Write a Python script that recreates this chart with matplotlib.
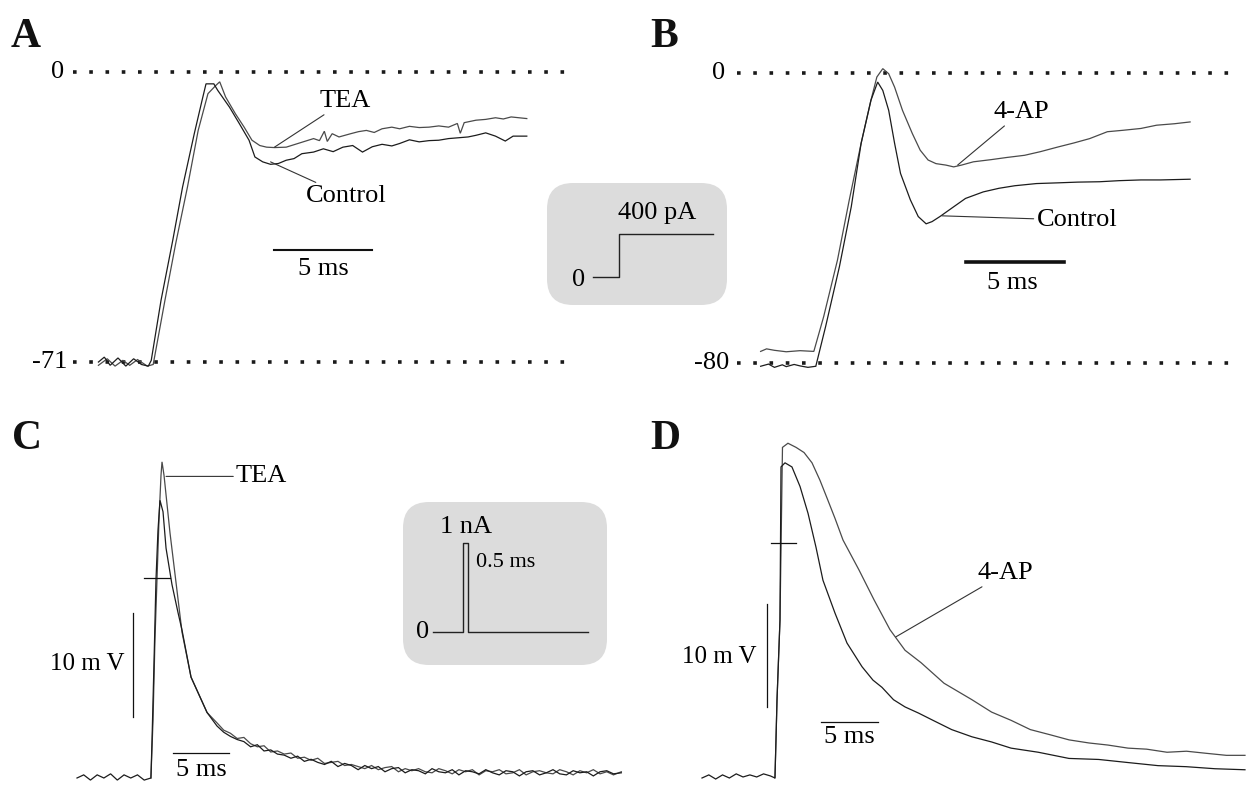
import matplotlib
matplotlib.use("Agg")
import matplotlib.pyplot as plt
from matplotlib.patches import FancyBboxPatch

plt.rcParams['font.family'] = ['Liberation Serif', 'DejaVu Serif']

W, H = 1252, 785

# ---------------- data (time in ms, membrane potential in mV) ----------------
# Panel A: 400 pA step, control vs TEA
ctlA_t = [1.3, 1.6, 1.9, 2.3, 2.7, 3.1, 3.5, 3.85, 4.0, 4.5, 5.1, 5.6, 6.2, 6.6, 6.8, 7.2, 7.4,
          8.0, 8.5, 9.0, 9.3, 9.7, 10.1, 10.5, 10.9, 11.3, 11.7, 12.3, 12.8, 13.3, 13.8, 14.3,
          14.8, 15.3, 15.8, 16.3, 16.7, 17.2, 17.7, 18.2, 18.7, 19.2, 19.7, 20.2, 20.6, 21.1,
          21.6, 22.1, 22.5, 23.2]
ctlA_v = [-71, -69.8, -71.8, -70.0, -72.0, -70.2, -71.6, -72.0, -70.6, -55.9, -41.2, -28.2,
          -15.1, -6.9, -2.9, -2.9, -4.5, -8.6, -12.6, -16.7, -20.8, -22.0, -22.6, -22.4, -21.6,
          -21.2, -20.0, -19.6, -18.8, -19.5, -18.4, -18.0, -19.6, -18.3, -17.7, -18.1, -17.5,
          -16.6, -17.1, -16.8, -16.7, -16.3, -16.1, -15.9, -15.5, -14.9, -15.7, -16.9, -15.7,
          -15.7]
teaA_t = [1.3, 1.75, 2.15, 2.55, 2.9, 3.3, 3.8, 4.1, 4.7, 5.25, 5.85, 6.4, 6.9, 7.3, 7.5, 7.8,
          8.3, 8.75, 9.15, 9.55, 9.9, 10.3, 10.9, 11.5, 12.3, 12.6, 12.85, 13.0, 13.25, 13.6,
          14.2, 14.6, 15.0, 15.4, 15.8, 16.3, 16.7, 17.2, 17.7, 18.2, 18.7, 19.2, 19.65, 19.8,
          20.0, 20.6, 21.1, 21.6, 22.0, 22.4, 23.2]
teaA_v = [-71.8, -70.2, -72.0, -70.6, -71.8, -70.4, -72.0, -71.6, -55.9, -42.0, -28.2, -14.3,
          -5.3, -3.3, -2.4, -6.1, -10.2, -13.5, -16.7, -18.0, -18.4, -18.5, -18.4, -17.5, -16.3,
          -16.8, -14.5, -17.0, -15.1, -15.9, -15.1, -14.6, -14.3, -14.8, -13.9, -13.5, -13.9,
          -13.3, -13.6, -13.5, -13.2, -13.5, -12.6, -15.0, -12.4, -11.8, -11.6, -11.2, -11.5,
          -11.0, -11.4]

# Panel B: control vs 4-AP
ctlB_t = [1.2, 1.6, 1.9, 2.3, 2.5, 2.9, 3.2, 3.6, 4.0, 4.5, 5.2, 5.8, 6.3, 6.8, 7.14, 7.4,
          7.7, 8.0, 8.3, 8.8, 9.2, 9.6, 9.9, 10.3, 11.0, 11.6, 12.5, 13.3, 14.1, 15.2, 16.3,
          17.3, 18.4, 19.4, 20.5, 21.5, 23.0]
ctlB_v = [-80.9, -80.3, -81.2, -80.5, -81.0, -80.4, -80.8, -81.2, -80.9, -69.9, -53.4, -36.9,
          -19.4, -7.5, -2.5, -4.8, -10.3, -19.4, -27.7, -35.0, -39.6, -41.6, -41.0, -39.6,
          -36.9, -34.6, -32.8, -31.8, -31.1, -30.5, -30.3, -30.1, -30.0, -29.7, -29.5, -29.5,
          -29.3]
apB_t = [1.2, 1.5, 1.9, 2.5, 3.2, 3.9, 4.4, 5.1, 5.7, 6.3, 6.8, 7.1, 7.4, 7.7, 8.0, 8.4, 8.9,
         9.3, 9.7, 10.1, 10.6, 11.0, 11.4, 12.0, 12.9, 13.7, 14.6, 15.4, 16.3, 17.1, 17.9,
         18.8, 19.6, 20.5, 21.3, 22.2, 23.0]
apB_v = [-76.8, -76.1, -76.5, -76.9, -76.6, -76.8, -67.2, -51.6, -35.0, -19.4, -7.5, -1.1, 1.2,
         -0.2, -3.9, -10.3, -16.7, -21.3, -24.0, -25.0, -25.4, -25.9, -25.4, -24.5, -23.9,
         -23.3, -22.7, -21.7, -20.4, -19.3, -18.1, -16.2, -15.8, -15.3, -14.4, -14.0, -13.5]

# Panel C: 1 nA / 0.5 ms pulse, control vs TEA (mV relative to rest)
ctlC_t = [0, 0.6, 1.2, 1.8, 2.4, 3.0, 3.6, 4.2, 4.8, 5.4, 6.0, 6.6, 6.7, 6.88, 7.05, 7.23,
          7.41, 7.68, 7.95, 8.48, 9.02, 9.38, 10.18, 11.61]
ctlC_v = [0, 0.3, -0.2, 0.3, 0, 0.4, -0.2, 0.3, 0, 0.3, -0.2, 0, 3.7, 11.3, 19.0, 23.8, 26.7,
          25.6, 22.1, 18.6, 15.9, 14.2, 9.7, 6.3]
teaC_t = [6.6, 6.79, 6.96, 7.14, 7.32, 7.5, 7.59, 7.77, 8.04, 8.3, 8.66, 9.02, 9.38, 10.18,
          11.61]
teaC_v = [0, 5.6, 13.3, 19.0, 24.8, 29.1, 30.4, 29.1, 26.3, 23.6, 20.4, 17.2, 14.0, 9.7, 6.3]
tailC_t = [12.5, 13.1, 13.7, 14.3, 14.9, 15.5, 16.1, 16.7, 17.3, 17.9, 18.5, 19.1, 19.7, 20.3,
           20.9, 21.5, 22.1, 22.7, 23.3, 23.9, 24.5, 25.1, 25.7, 26.3, 26.9, 27.5, 28.1, 28.7,
           29.3, 29.9, 30.5, 31.1, 31.7, 32.3, 32.9, 33.5, 34.1, 34.7, 35.3, 35.9, 36.5, 37.1,
           37.7, 38.3, 38.9, 39.5, 40.1, 40.7, 41.3, 41.9, 42.5, 43.1, 43.7, 44.3, 44.9, 45.5,
           46.1, 46.7, 47.3, 47.9, 48.6]
ctlC_tail = [5.0, 4.4, 4.0, 3.7, 3.5, 3.0, 3.2, 2.6, 2.7, 2.3,
             2.2, 1.9, 2.1, 1.6, 1.8, 1.5, 1.3, 1.6, 1.1, 1.4,
             1.2, 0.8, 1.2, 0.9, 1.1, 0.6, 0.9, 1.0, 0.5, 0.8,
             0.7, 0.4, 0.9, 0.6, 0.5, 0.8, 0.3, 0.7, 0.6, 0.4,
             0.8, 0.5, 0.3, 0.7, 0.6, 0.2, 0.6, 0.7, 0.3, 0.5,
             0.8, 0.4, 0.3, 0.7, 0.5, 0.6, 0.2, 0.6, 0.7, 0.4,
             0.5]
teaC_tail = [5.3, 4.6, 4.3, 3.8, 3.9, 3.3, 3.0, 3.1, 2.5, 2.6,
             2.3, 2.4, 1.9, 2.0, 1.7, 1.9, 1.4, 1.5, 1.6, 1.2,
             1.3, 1.1, 0.9, 1.2, 0.8, 1.0, 1.1, 0.6, 0.9, 0.7,
             0.9, 0.6, 0.5, 0.9, 0.7, 0.4, 0.8, 0.6, 0.8, 0.3,
             0.7, 0.6, 0.8, 0.4, 0.5, 0.8, 0.3, 0.6, 0.7, 0.5,
             0.4, 0.8, 0.6, 0.3, 0.7, 0.5, 0.8, 0.4, 0.6, 0.3,
             0.6]

# Panel D: control vs 4-AP
ctlD_t = [0, 0.6, 1.2, 1.8, 2.4, 3.0, 3.6, 4.2, 4.8, 5.4, 6.0, 6.4, 6.49, 6.58, 6.84, 6.93,
          7.28, 7.89, 8.6, 9.3, 10.0, 10.61, 11.67, 12.72, 14.04, 15.0, 15.79, 16.8, 17.81,
          19.0, 20.26, 21.9, 23.68, 25.4, 27.11, 29.5, 32.19, 34.8, 37.37, 40.0, 42.46, 45.0,
          47.63]
ctlD_v = [0, 0.3, -0.1, 0.3, 0, 0.4, 0.1, 0.3, 0.1, 0.4, 0.2, 0, 3.7, 7.6, 15.3, 30.2, 30.6,
          30.2, 28.3, 25.7, 22.4, 19.2, 16.0, 13.1, 10.8, 9.5, 8.8, 7.6, 6.9, 6.3, 5.6, 4.7,
          4.0, 3.5, 2.9, 2.5, 1.9, 1.8, 1.5, 1.2, 1.1, 0.9, 0.8]
apD_t = [6.4, 6.49, 6.58, 6.84, 7.06, 7.54, 8.25, 8.95, 9.65, 10.35, 10.96, 11.67, 12.37,
         13.77, 15.09, 16.49, 17.81, 19.21, 21.23, 23.68, 25.4, 27.11, 28.8, 30.53, 32.2,
         33.95, 35.6, 37.37, 39.0, 40.79, 42.5, 44.21, 46.0, 47.63]
apD_v = [0, 3.7, 7.6, 15.3, 32.1, 32.5, 32.1, 31.6, 30.6, 28.9, 27.2, 25.2, 23.1, 20.2, 17.3,
         14.4, 12.4, 11.2, 9.2, 7.6, 6.4, 5.6, 4.7, 4.2, 3.7, 3.4, 3.2, 2.9, 2.8, 2.5, 2.6,
         2.4, 2.2, 2.2]

# Stimulus schematics
step_t = [0, 1, 1, 4.6]          # arbitrary time units
step_I = [0, 0, 400, 400]        # pA
pulse_t = [0, 3.0, 3.0, 3.5, 3.5, 15.5]   # ms
pulse_I = [0, 0, 1, 1, 0, 0]              # nA

# ---------------------------------------------------------------------------
fig = plt.figure(figsize=(W / 100, H / 100), dpi=100)
fig.patch.set_facecolor('white')


def panel_axes(x0, ppx, y0, ppy):
    """Full-figure transparent axes; data origin at pixel (x0, y0)."""
    ax = fig.add_axes([0, 0, 1, 1])
    ax.set_xlim(-x0 / ppx, (W - x0) / ppx)
    ax.set_ylim((y0 - H) / ppy, y0 / ppy)
    ax.axis('off')
    ax.patch.set_alpha(0)
    return ax


DARK = '#1c1c1c'
GRAY = '#4a4a4a'
FS = 19
trace_kw = dict(lw=0.9, solid_joinstyle='miter')
dot_kw = dict(color='#1a1a1a', lw=2.6, linestyle=(0, (1, 3.5)), dash_capstyle='butt')
lead_kw = dict(arrowstyle='-', color='#333333', lw=0.8, shrinkA=0, shrinkB=0)

# overlay in pixel coords for boxes and panel letters
ov = fig.add_axes([0, 0, 1, 1])
ov.set_xlim(0, W)
ov.set_ylim(H, 0)
ov.axis('off')
ov.patch.set_alpha(0)
for (bx, by, bw, bh) in [(547, 183, 180, 122), (403, 502, 204, 163)]:
    ov.add_patch(FancyBboxPatch((bx, by), bw, bh,
                                boxstyle="round,pad=0,rounding_size=26",
                                fc='#dcdcdc', ec='none'))
for lab, (lx, ly) in zip('ABCD', [(11, 18), (650, 18), (12, 420), (650, 420)]):
    ov.text(lx, ly, lab, fontsize=30, fontweight='bold', ha='left', va='top', color='#111111')

# ---------------- Panel A ----------------
axA = panel_axes(73, 19.56, 72, 4.085)
axA.plot([0, 25.3], [0, 0], **dot_kw)
axA.plot([0, 25.3], [-71, -71], **dot_kw)
axA.text(-0.45, 0, '0', fontsize=FS, ha='right', va='center')
axA.text(-0.3, -71, '-71', fontsize=FS, ha='right', va='center')
axA.plot(teaA_t, teaA_v, color=GRAY, **trace_kw)
axA.plot(ctlA_t, ctlA_v, color=DARK, **trace_kw)
axA.annotate('TEA', xy=(10.3, -18.4), xytext=(12.6, -7.1), fontsize=FS, ha='left',
             va='center', arrowprops=lead_kw)
axA.annotate('Control', xy=(10.1, -22.0), xytext=(11.9, -30.4), fontsize=FS, ha='left',
             va='center', arrowprops=lead_kw)
axA.plot([10.3, 15.3], [-43.5, -43.5], color='#111111', lw=1.5)
axA.text(12.8, -48.2, '5 ms', fontsize=FS, ha='center', va='center')

# ---------------- Panel B ----------------
axB = panel_axes(737, 19.7, 73, 3.625)
axB.plot([0, 25.15], [0, 0], **dot_kw)
axB.plot([0, 25.15], [-80, -80], **dot_kw)
axB.text(-0.6, 0, '0', fontsize=FS, ha='right', va='center')
axB.text(-0.4, -80, '-80', fontsize=FS, ha='right', va='center')
axB.plot(apB_t, apB_v, color=GRAY, **trace_kw)
axB.plot(ctlB_t, ctlB_v, color=DARK, **trace_kw)
axB.annotate('4-AP', xy=(11.2, -25.4), xytext=(13.0, -10.8), fontsize=FS, ha='left',
             va='center', arrowprops=lead_kw)
axB.annotate('Control', xy=(10.4, -39.4), xytext=(15.2, -40.6), fontsize=FS, ha='left',
             va='center', arrowprops=lead_kw)
axB.plot([11.6, 16.6], [-52.1, -52.1], color='#111111', lw=2.6)
axB.text(14.0, -57.9, '5 ms', fontsize=FS, ha='center', va='center')

# inset: 400 pA step
axS = panel_axes(593, 26.0, 277, 0.1075)
axS.plot(step_t, step_I, color='#222222', lw=1.0)
axS.text(-0.3, -25, '0', fontsize=FS, ha='right', va='center')
axS.text(2.46, 595, '400 pA', fontsize=FS, ha='center', va='center')

# ---------------- Panel C ----------------
axC = panel_axes(77, 11.2, 778, 10.4)
axC.plot(teaC_t + tailC_t, teaC_v + teaC_tail, color=GRAY, **trace_kw)
axC.plot(ctlC_t + tailC_t, ctlC_v + ctlC_tail, color=DARK, **trace_kw)
axC.plot([6.0, 8.3], [19.2, 19.2], color='#111111', lw=0.9)
axC.plot([5.0, 5.0], [5.9, 15.9], color='#111111', lw=0.9)
axC.text(4.2, 11.0, '10 m V', fontsize=18, ha='right', va='center')
axC.plot([8.57, 13.57], [2.4, 2.4], color='#111111', lw=0.9)
axC.text(11.1, 0.8, '5 ms', fontsize=FS, ha='center', va='center')
axC.annotate('TEA', xy=(7.95, 29.0), xytext=(14.2, 29.0), fontsize=FS, ha='left',
             va='center', arrowprops=lead_kw)

# inset: 1 nA pulse
axP = panel_axes(433, 10.0, 632, 89.0)
axP.plot(pulse_t, pulse_I, color='#222222', lw=1.0)
axP.text(-0.4, 0, '0', fontsize=FS, ha='right', va='center')
axP.text(3.3, 1.18, '1 nA', fontsize=FS, ha='center', va='center')
axP.text(4.3, 0.78, '0.5 ms', fontsize=16, ha='left', va='center')

# ---------------- Panel D ----------------
axD = panel_axes(702, 11.4, 778, 10.3)
axD.plot(apD_t, apD_v, color=GRAY, **trace_kw)
axD.plot(ctlD_t, ctlD_v, color=DARK, **trace_kw)
axD.plot([6.05, 8.25], [22.8, 22.8], color='#111111', lw=0.9)
axD.plot([5.7, 5.7], [6.9, 16.9], color='#111111', lw=0.9)
axD.text(4.8, 11.7, '10 m V', fontsize=18, ha='right', va='center')
axD.plot([10.4, 15.4], [5.4, 5.4], color='#111111', lw=0.9)
axD.text(12.9, 4.0, '5 ms', fontsize=FS, ha='center', va='center')
axD.annotate('4-AP', xy=(17.0, 13.7), xytext=(24.2, 19.9), fontsize=FS, ha='left',
             va='center', arrowprops=lead_kw)

fig.savefig('out.png', dpi=100, facecolor='white')
